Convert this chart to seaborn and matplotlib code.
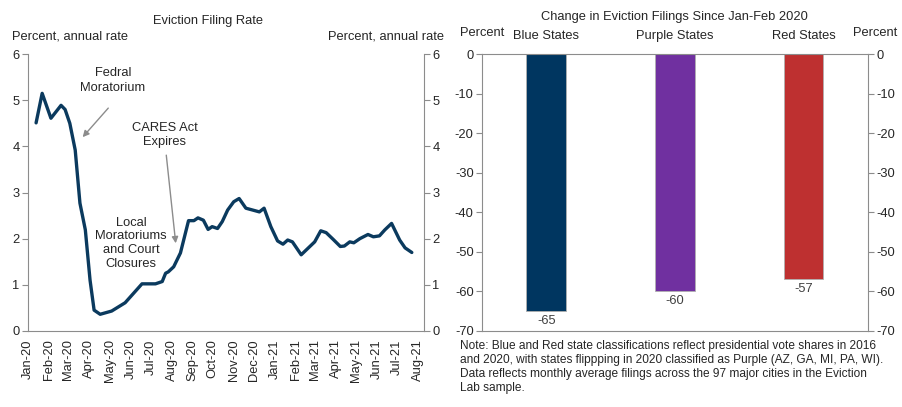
import pandas as pd
import seaborn as sns
import matplotlib.pyplot as plt
import matplotlib.dates as mdates

# weekly eviction filing rate, percent annual rate
dates = ["2020-01-13", "2020-01-22", "2020-02-04", "2020-02-19", "2020-02-25", "2020-03-03",
         "2020-03-11", "2020-03-18", "2020-03-26", "2020-04-02", "2020-04-08", "2020-04-17",
         "2020-05-04", "2020-05-24", "2020-06-18", "2020-07-08", "2020-07-18", "2020-07-23",
         "2020-07-27", "2020-08-04", "2020-08-14", "2020-08-26", "2020-09-03", "2020-09-09",
         "2020-09-17", "2020-09-24", "2020-09-30", "2020-10-08", "2020-10-15", "2020-10-23",
         "2020-11-01", "2020-11-09", "2020-11-19", "2020-12-09", "2020-12-16", "2020-12-26",
         "2021-01-05", "2021-01-13", "2021-01-20", "2021-01-27", "2021-02-09", "2021-02-19",
         "2021-03-01", "2021-03-10", "2021-03-18", "2021-03-28", "2021-04-08", "2021-04-14",
         "2021-04-22", "2021-04-28", "2021-05-07", "2021-05-19", "2021-05-27", "2021-06-05",
         "2021-06-13", "2021-06-23", "2021-07-05", "2021-07-13", "2021-07-23"]
rate = [4.51, 5.15, 4.61, 4.89, 4.80, 4.50,
        3.92, 2.77, 2.19, 1.10, 0.45, 0.36,
        0.43, 0.61, 1.02, 1.02, 1.07, 1.25,
        1.28, 1.39, 1.69, 2.39, 2.39, 2.45,
        2.40, 2.20, 2.26, 2.22, 2.37, 2.62,
        2.80, 2.87, 2.66, 2.58, 2.66, 2.26,
        1.95, 1.88, 1.97, 1.93, 1.65, 1.79,
        1.93, 2.17, 2.13, 1.99, 1.83, 1.84,
        1.93, 1.91, 2.00, 2.09, 2.04, 2.06,
        2.19, 2.33, 1.97, 1.80, 1.70]

states = ["Blue States", "Purple States", "Red States"]
change = [-65, -60, -57]
bar_colors = ["#003660", "#7030A0", "#BE3030"]

note = ("Note: Blue and Red state classifications reflect presidential vote shares in 2016\n"
        "and 2020, with states flippping in 2020 classified as Purple (AZ, GA, MI, PA, WI).\n"
        "Data reflects monthly average filings across the 97 major cities in the Eviction\n"
        "Lab sample.")

sns.set_style("white")
plt.rcParams["font.family"] = ["Liberation Sans", "DejaVu Sans"]
plt.rcParams["font.size"] = 9.3
plt.rcParams["axes.unicode_minus"] = False
grey = "#8c8c8c"
T = pd.Timestamp

fig = plt.figure(figsize=(9.03, 4.07), dpi=100)

# left panel
ax = fig.add_axes([0.031, 0.187, 0.4385, 0.68])
df = pd.DataFrame({"date": pd.to_datetime(dates), "rate": rate})
sns.lineplot(data=df, x="date", y="rate", ax=ax, color="#0b3a5e", linewidth=2.4)
ax.set_xlim(T("2020-01-01"), T("2021-08-10"))
ax.set_ylim(0, 6)
ax.set_xlabel("")
ax.set_ylabel("")
ax.xaxis.set_major_locator(mdates.MonthLocator())
ax.xaxis.set_major_formatter(mdates.DateFormatter("%b-%y"))
ax.tick_params(axis="x", rotation=90, length=4, color=grey, pad=2)
ax.tick_params(axis="y", length=4, color=grey, pad=2, left=True, right=True, labelright=True)
for s in ["left", "right", "bottom"]:
    ax.spines[s].set_color(grey)
ax.spines["top"].set_visible(False)
ax.set_yticks(range(0, 7))

ax.text(0.455, 1.12, "Eviction Filing Rate", transform=ax.transAxes, ha="center", va="center")
ax.text(-0.04, 1.065, "Percent, annual rate", transform=ax.transAxes, ha="left", va="center")
ax.text(1.05, 1.065, "Percent, annual rate", transform=ax.transAxes, ha="right", va="center")

# annotations
ax.text(T("2020-05-06"), 5.43, "Fedral\nMoratorium", ha="center", va="center", linespacing=1.25)
ax.annotate("", xy=(T("2020-03-22"), 4.2), xytext=(T("2020-04-29"), 4.83),
            arrowprops=dict(arrowstyle="-|>", color=grey, lw=1, shrinkA=0, shrinkB=0))
ax.text(T("2020-07-22"), 4.24, "CARES Act\nExpires", ha="center", va="center", linespacing=1.25)
ax.annotate("", xy=(T("2020-08-07"), 1.9), xytext=(T("2020-07-24"), 3.81),
            arrowprops=dict(arrowstyle="-|>", color=grey, lw=1, shrinkA=0, shrinkB=0))
ax.text(T("2020-06-02"), 1.9, "Local\nMoratoriums\nand Court\nClosures",
        ha="center", va="center", linespacing=1.2)

# right panel
bx = fig.add_axes([0.5338, 0.1875, 0.4272, 0.6795])
sns.barplot(x=states, y=change, hue=states, palette=bar_colors, width=0.31,
            legend=False, ax=bx, edgecolor="#b0b0b0", linewidth=0.6, saturation=1)
bx.set_ylim(-70, 0)
bx.set_xlim(-0.5, 2.5)
bx.set_yticks(range(-70, 1, 10))
bx.tick_params(axis="y", length=4, color=grey, pad=2, left=True, right=True, labelright=True)
bx.tick_params(axis="x", bottom=False, labelbottom=False)
for s in bx.spines.values():
    s.set_color(grey)
for i, v in enumerate(change):
    bx.text(i, v - 1.0, str(v), ha="center", va="top", color="#404040")
for i, name in enumerate(states):
    bx.text(i, 1.065, name, transform=bx.get_xaxis_transform(), ha="center", va="center")
bx.text(0.5, 1.135, "Change in Eviction Filings Since Jan-Feb 2020", transform=bx.transAxes,
        ha="center", va="center")
bx.text(-0.057, 1.075, "Percent", transform=bx.transAxes, ha="left", va="center")
bx.text(1.02, 1.075, "Percent", transform=bx.transAxes, ha="center", va="center")
bx.text(-0.057, -0.035, note, transform=bx.transAxes, ha="left", va="top", fontsize=8.6,
        linespacing=1.2)

fig.savefig("out.png", dpi=100)
